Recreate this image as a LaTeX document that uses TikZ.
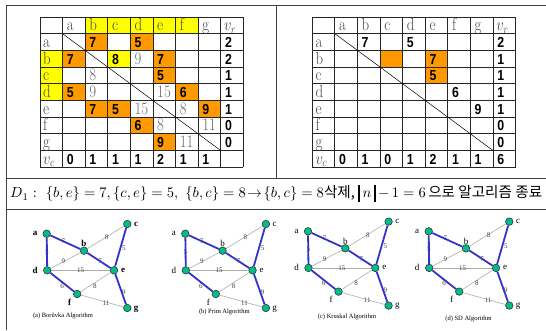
\documentclass[tikz,border=0pt]{standalone}
\usepackage{fontspec}
\usepackage{graphicx}
\newfontfamily\numfont{Liberation Sans}
\newfontfamily\timesfont{Liberation Serif}
\newfontfamily\krfont{Noto Sans CJK KR}
\usetikzlibrary{backgrounds}
\definecolor{orng}{RGB}{255,153,0}
\definecolor{yell}{RGB}{255,255,0}
\definecolor{hdr}{RGB}{70,70,70}
\definecolor{gnum}{RGB}{105,105,105}
\definecolor{treeblue}{RGB}{51,51,204}
\definecolor{nodegreen}{RGB}{0,190,140}
\newcommand\sx[1]{\scalebox{0.85}[1]{#1}}
\newcommand\serifsz{\fontsize{17.5}{17.5}\selectfont}
\newcommand\numsz{\numfont\bfseries\fontsize{14.5}{14.5}\selectfont}
\tikzset{
  frameline/.style={draw=black!75, line width=1pt},
  gridline/.style={draw=black!85, line width=0.9pt},
  lbl/.style={anchor=base west, inner sep=0pt, text=hdr, font=\serifsz},
  num/.style={anchor=base west, inner sep=0pt, text=black, font=\numsz},
  gry/.style={anchor=base west, inner sep=0pt, text=gnum, font=\serifsz},
  gnode/.style={circle, inner sep=0pt, minimum size=7.5pt, fill=nodegreen, draw=black!80, line width=0.6pt},
  glabel/.style={inner sep=0pt, text=black},
  gedge/.style={draw=gray!65, line width=0.6pt},
  tedge/.style={draw=treeblue, line width=1.8pt},
  elabel/.style={inner sep=0pt, text=black!75, font=\timesfont\fontsize{7}{7}\selectfont},
  capt/.style={inner sep=0pt, font=\timesfont\fontsize{6.5}{6.5}\selectfont}
}
\newcommand\tablegrid[1]{%
  \foreach \i in {0,...,9} {
    \draw[gridline] (\i,0) -- (\i,9);
    \draw[gridline] (0,\i) -- (9,\i);
  }
  \draw[black, line width=0.5pt] (1,1) -- (8,8);
  \foreach \c/\t in {1/a,2/b,3/c,4/d,5/e,6/f,7/g} {
    \node[lbl] (#1h\c) at ([xshift=4pt,yshift=3pt]\c,1) {\sx{\t}};
    \node[lbl] (#1r\c) at ([xshift=3pt,yshift=3pt]0,\c+1) {\sx{\t}};
  }
  \node[lbl] (#1hvr) at ([xshift=3pt,yshift=3pt]8,1) {\sx{$v_r$}};
  \node[lbl] (#1rvc) at ([xshift=3pt,yshift=3pt]0,9) {\sx{$v_c$}};
}
\newcommand\mstgraph[3]{%
\begin{scope}[shift={(#2,#3)}]
  \node[gnode] (#1a) at (0,0) {};
  \node[gnode] (#1b) at (37.3,17) {};
  \node[gnode] (#1c) at (80.6,-9.7) {};
  \node[gnode] (#1d) at (0.5,36.6) {};
  \node[gnode] (#1e) at (67.3,36.6) {};
  \node[gnode] (#1f) at (30.5,60.3) {};
  \node[gnode] (#1g) at (80.6,74.3) {};
  \node[glabel] (#1la) at (-11.5,0) {\glabfont a};
  \node[glabel] (#1lb) at (37.3,10) {\glabfont b};
  \node[glabel] (#1lc) at (89.3,-9.7) {\glabfont c};
  \node[glabel] (#1ld) at (-11.5,36.6) {\glabfont d};
  \node[glabel] (#1le) at (76.3,36.6) {\glabfont e};
  \node[glabel] (#1lf) at (23,68.3) {\glabfont f};
  \node[glabel] (#1lg) at (89.3,75.3) {\glabfont g};
  \begin{scope}[on background layer]
    \draw[gedge] (#1b) -- node[elabel, xshift=1pt] (#1w1) {8} (#1c);
    \draw[gedge] (#1d) -- node[elabel, xshift=-2.3pt, yshift=-1pt] (#1w2) {9} (#1b);
    \draw[gedge] (#1d) -- node[elabel] (#1w3) {15} (#1e);
    \draw[gedge] (#1f) -- node[elabel, xshift=-0.7pt, yshift=-3.7pt] (#1w4) {8} (#1e);
    \draw[gedge] (#1f) -- node[elabel, xshift=3.7pt, yshift=-2pt] (#1w5) {11} (#1g);
    \draw[tedge] (#1a) -- node[elabel, xshift=-2pt, yshift=1.3pt] (#1w6) {7} (#1b);
    \draw[tedge] (#1a) -- node[elabel] (#1w7) {5} (#1d);
    \draw[tedge] (#1b) -- node[elabel, xshift=1pt, yshift=-1pt] (#1w8) {7} (#1e);
    \draw[tedge] (#1c) -- node[elabel, xshift=3.3pt, yshift=-1pt] (#1w9) {5} (#1e);
    \draw[tedge] (#1d) -- node[elabel, yshift=-3.7pt] (#1w10) {6} (#1f);
    \draw[tedge] (#1e) -- node[elabel, xshift=3.3pt, yshift=-3pt] (#1w11) {9} (#1g);
  \end{scope}
\end{scope}}
\begin{document}
\begin{tikzpicture}[x=1pt,y=-1pt]
\useasboundingbox (0,0) rectangle (546,330);
% frame
\coordinate (ftl) at (6,5);
\coordinate (ftr) at (546,5);
\coordinate (fbl) at (6,330);
\coordinate (sept) at (276,5);
\coordinate (sepb) at (276,178);
\coordinate (h1l) at (6,178);
\coordinate (h1r) at (546,178);
\coordinate (h2l) at (6,209);
\coordinate (h2r) at (546,209);
\draw[frameline] (ftr) -- (ftl) -- (fbl);
\draw[frameline] (sept) -- (sepb);
\draw[frameline] (h1l) -- (h1r);
\draw[frameline] (h2l) -- (h2r);

% ---------- table 1
\begin{scope}[shift={(40pt,-17pt)}, x=22.6pt, y=-16.7pt]
  \foreach \c/\r in {2/0,3/0,4/0,5/0,6/0,0/2,0/3,0/4,3/2}
    \fill[yell] (\c,\r) rectangle ++(1,1);
  \foreach \c/\r in {2/1,4/1,1/2,5/2,5/3,1/4,6/4,2/5,3/5,7/5,4/6,5/7}
    \fill[orng] (\c,\r) rectangle ++(1,1);
  \tablegrid{A}
  \foreach \c/\r/\v in {2/1/7,4/1/5,1/2/7,3/2/8,5/2/7,5/3/5,1/4/5,6/4/6,2/5/7,3/5/5,7/5/9,4/6/6,5/7/9,
      8/1/2,8/2/2,8/3/1,8/4/1,8/5/1,8/6/0,8/7/0,
      1/8/0,2/8/1,3/8/1,4/8/1,5/8/2,6/8/1,7/8/1}
    \node[num] (An\c-\r) at ([xshift=4pt,yshift=3pt]\c,\r+1) {\sx{\v}};
  \foreach \c/\r/\v in {4/2/9,2/3/8,2/4/9,5/4/15,4/5/15,6/5/8,5/6/8,7/6/11,6/7/11}
    \node[gry] (Ag\c-\r) at ([xshift=4pt,yshift=3pt]\c,\r+1) {\sx{\v}};
\end{scope}

% ---------- table 2
\begin{scope}[shift={(312.3pt,-17pt)}, x=22.6pt, y=-16.7pt]
  \foreach \c/\r in {3/2,5/2,5/3}
    \fill[orng] (\c,\r) rectangle ++(1,1);
  \tablegrid{B}
  \foreach \c/\r/\v in {2/1/7,4/1/5,5/2/7,5/3/5,6/4/6,7/5/9,
      8/1/2,8/2/1,8/3/1,8/4/1,8/5/1,8/6/0,8/7/0,
      1/8/0,2/8/1,3/8/0,4/8/1,5/8/2,6/8/1,7/8/1,8/8/6}
    \node[num] (Bn\c-\r) at ([xshift=4pt,yshift=3pt]\c,\r+1) {\sx{\v}};
\end{scope}

% ---------- text row
\node[anchor=west, inner sep=0pt] (txt) at (10,193.5) {\resizebox{532pt}{!}{%
$D_1:\ \{b,e\}=7,\{c,e\}=5,\ \{b,c\}=8\!\rightarrow\!\{b,c\}=8$\krfont 삭제,
\rule[-2.5pt]{1.3pt}{11pt}\,$n$\,\rule[-2.5pt]{1.3pt}{11pt}\,$-\,1=6$\,\krfont 으로 알고리즘 종료}};

% ---------- graphs
\newcommand\glabfont{\timesfont\bfseries\fontsize{9}{9}\selectfont}
\mstgraph{P}{46.7}{233.7}
\renewcommand\glabfont{\timesfont\fontsize{9}{9}\selectfont}
\mstgraph{Q}{185.3}{233.7}
\mstgraph{R}{308}{231.3}
\mstgraph{S}{428.7}{231.3}
\node[capt] (cap1) at (63,315.7) {(a) Borůvka Algorithm};
\node[capt] (cap2) at (224.3,312.3) {(b) Prim Algorithm};
\node[capt] (cap3) at (347,317) {(c) Kruskal Algorithm};
\node[capt] (cap4) at (468.5,319) {(d) SD Algorithm};
\end{tikzpicture}
\end{document}
